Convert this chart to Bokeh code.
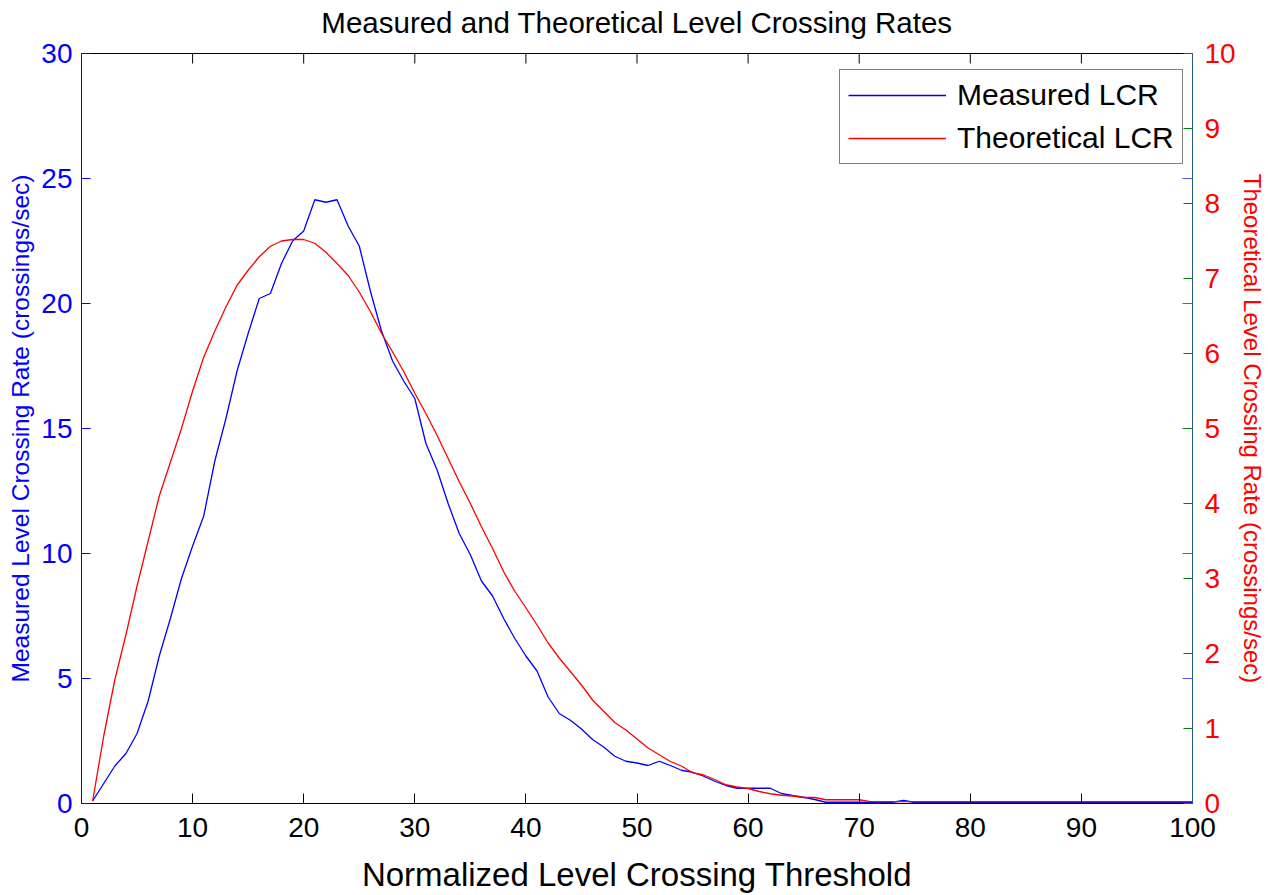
import math

from bokeh.embed import file_html
from bokeh.models import FixedTicker, Legend, LegendItem, LinearAxis, Range1d
from bokeh.plotting import figure
from bokeh.resources import INLINE

# Normalized level crossing threshold (x) and the two level crossing rates
threshold = list(range(1, 101))

measured_lcr = [
    0.1, 0.8, 1.5, 2.0, 2.8, 4.1, 5.9, 7.4, 9.0, 10.3,
    11.5, 13.7, 15.4, 17.3, 18.8, 20.2, 20.4, 21.6, 22.5, 22.9,
    24.15, 24.05, 24.15, 23.1, 22.3, 20.5, 18.9, 17.7, 16.9, 16.2,
    14.4, 13.35, 12.0, 10.8, 9.95, 8.9, 8.3, 7.4, 6.6, 5.9,
    5.3, 4.26, 3.6, 3.33, 2.98, 2.56, 2.26, 1.89, 1.69, 1.62,
    1.52, 1.69, 1.52, 1.33, 1.25, 1.09, 0.89, 0.72, 0.61, 0.61,
    0.61, 0.61, 0.4, 0.32, 0.25, 0.16, 0.05, 0.05, 0.05, 0.05,
    0.04, 0.04, 0.05, 0.12, 0.04, 0.04, 0.04, 0.04, 0.04, 0.04,
    0.04, 0.04, 0.04, 0.04, 0.04, 0.04, 0.04, 0.04, 0.04, 0.04,
    0.04, 0.04, 0.04, 0.04, 0.04, 0.04, 0.04, 0.04, 0.04, 0.04,
]

theoretical_lcr = [
    0.03, 0.9, 1.65, 2.25, 2.9, 3.5, 4.1, 4.55, 5.0, 5.5,
    5.95, 6.3, 6.62, 6.91, 7.11, 7.29, 7.43, 7.5, 7.52, 7.52,
    7.47, 7.35, 7.2, 7.04, 6.82, 6.56, 6.27, 6.02, 5.76, 5.47,
    5.2, 4.91, 4.6, 4.29, 4.0, 3.69, 3.4, 3.09, 2.83, 2.61,
    2.38, 2.14, 1.94, 1.76, 1.58, 1.38, 1.23, 1.08, 0.98, 0.86,
    0.74, 0.65, 0.56, 0.5, 0.41, 0.38, 0.32, 0.25, 0.22, 0.2,
    0.16, 0.13, 0.11, 0.1, 0.08, 0.08, 0.05, 0.05, 0.05, 0.05,
    0.025, 0.025, 0.025, 0.025, 0.025, 0.025, 0.025, 0.025, 0.025, 0.025,
    0.025, 0.025, 0.025, 0.025, 0.025, 0.025, 0.025, 0.025, 0.025, 0.025,
    0.025, 0.025, 0.025, 0.025, 0.025, 0.025, 0.025, 0.025, 0.025, 0.025,
]

x_ticks = list(range(0, 101, 10))
left_ticks = list(range(0, 31, 5))
right_ticks = list(range(0, 11))

TITLE = "Measured and Theoretical Level Crossing Rates"
FONT = "Liberation Sans"

p = figure(
    width=1268,
    height=895,
    output_backend="svg",
    toolbar_location=None,
    x_range=Range1d(0, 100),
    y_range=Range1d(0, 30),
    min_border_left=81,
    min_border_right=74,
    min_border_top=53,
    min_border_bottom=91,
)
p.extra_y_ranges = {"theory": Range1d(0, 10)}
p.xgrid.visible = False
p.ygrid.visible = False
p.outline_line_color = None
p.background_fill_color = "white"
p.border_fill_color = "white"
p.title.visible = False

# Default axes of the figure
xa = p.below[0]
ya = p.left[0]

# Bottom axis
xa.ticker = FixedTicker(ticks=x_ticks)
xa.axis_line_color = "black"
xa.major_tick_line_color = "black"
xa.major_tick_in = 10
xa.major_tick_out = 0
xa.minor_tick_line_color = None
xa.major_label_text_font = FONT
xa.major_label_text_font_size = "28px"
xa.major_label_text_color = "black"
xa.major_label_standoff = 14
xa.axis_label = "Normalized Level Crossing Threshold"
xa.axis_label_text_font = FONT
xa.axis_label_text_font_size = "33px"
xa.axis_label_text_font_style = "normal"
xa.axis_label_text_color = "black"
xa.axis_label_standoff = 16

# Left axis (measured)
ya.ticker = FixedTicker(ticks=left_ticks)
ya.axis_line_color = "blue"
ya.major_tick_line_color = "blue"
ya.major_tick_in = 9
ya.major_tick_out = 0
ya.minor_tick_line_color = None
ya.major_label_text_font = FONT
ya.major_label_text_font_size = "28px"
ya.major_label_text_color = "blue"
ya.major_label_standoff = 9
ya.axis_label = "Measured Level Crossing Rate (crossings/sec)"
ya.axis_label_text_font = FONT
ya.axis_label_text_font_size = "24.5px"
ya.axis_label_text_font_style = "normal"
ya.axis_label_text_color = "blue"
ya.axis_label_standoff = 4

# Top edge of the box; its label carries the chart title
top = LinearAxis(
    ticker=FixedTicker(ticks=[]),
    axis_line_color="black",
    major_tick_line_color=None,
    minor_tick_line_color=None,
    major_label_standoff=0,
    axis_label=TITLE,
    axis_label_text_font=FONT,
    axis_label_text_font_size="29.5px",
    axis_label_text_font_style="normal",
    axis_label_text_color="black",
    axis_label_standoff=15,
)
p.add_layout(top, "above")

# Right axis (theoretical)
ra = LinearAxis(
    y_range_name="theory",
    ticker=FixedTicker(ticks=right_ticks),
    axis_line_color="#245a8a",
    major_tick_line_color="green",
    major_tick_in=9,
    major_tick_out=0,
    minor_tick_line_color=None,
    major_label_text_font=FONT,
    major_label_text_font_size="28px",
    major_label_text_color="red",
    major_label_standoff=12,
    axis_label="Theoretical Level Crossing Rate (crossings/sec)",
    axis_label_text_font=FONT,
    axis_label_text_font_size="24px",
    axis_label_text_font_style="normal",
    axis_label_text_color="red",
    axis_label_standoff=0,
)
p.add_layout(ra, "right")

# Inward ticks along the top edge
p.ray(
    x=x_ticks[1:-1],
    y=[p.y_range.end] * (len(x_ticks) - 2),
    length=10,
    length_units="screen",
    angle=-math.pi / 2,
    line_color="black",
    line_width=1,
)

# Left-scale ticks repeated on the right edge
inner = left_ticks[1:-1]
p.ray(
    x=[p.x_range.end] * len(inner),
    y=inner,
    length=10,
    length_units="screen",
    angle=math.pi,
    line_color="#5555ff",
    line_width=1,
)

# Data curves
r_meas = p.line(threshold, measured_lcr, line_color="blue", line_width=1.3)
r_theo = p.line(threshold, theoretical_lcr, line_color="red", line_width=1.3,
                y_range_name="theory")

legend = Legend(
    items=[
        LegendItem(label="Measured LCR", renderers=[r_meas]),
        LegendItem(label="Theoretical LCR", renderers=[r_theo]),
    ],
    location=(758, 639),
    margin=0,
    padding=8,
    spacing=9,
    glyph_width=98,
    glyph_height=32,
    label_height=32,
    label_standoff=11,
    label_text_font=FONT,
    label_text_font_size="30px",
    label_text_color="black",
    border_line_color="black",
    border_line_width=1,
    background_fill_color="white",
    background_fill_alpha=1,
)
p.add_layout(legend)

open("out.html", "w").write(file_html(p, INLINE))
